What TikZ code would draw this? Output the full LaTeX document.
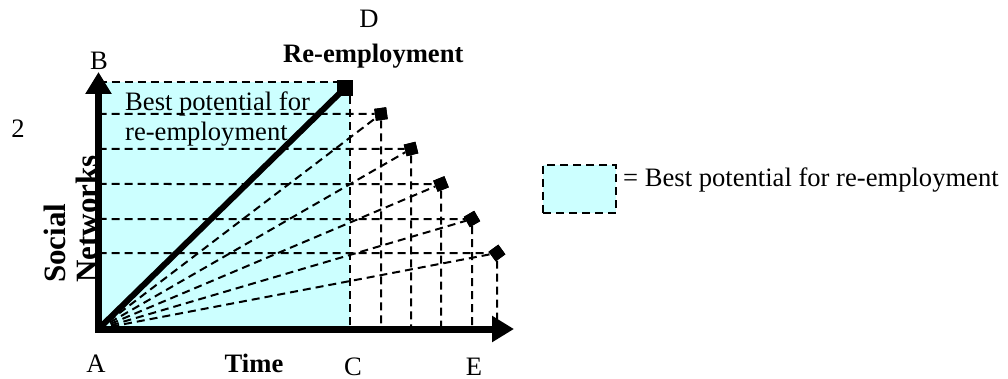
\documentclass[tikz,border=0pt]{standalone}
\usepackage{fontspec}
\setmainfont{Liberation Serif}
\usetikzlibrary{arrows.meta}
\definecolor{potential}{RGB}{204,255,255}
\tikzset{
  guide/.style={line width=2pt, dash pattern=on 8pt off 5pt},
  axisline/.style={line width=7pt, line join=miter, {Triangle[length=22pt,width=25pt]}-{Triangle[length=22pt,width=25pt]}},
  mainline/.style={line width=6pt},
  endsq/.style={draw=none, fill=black, minimum size=16pt, inner sep=0pt},
  endmark/.style={draw=none, fill=black, minimum size=12pt, inner sep=0pt},
  lbl/.style={inner sep=0pt, font=\fontsize{26.6}{30}\selectfont},
  blbl/.style={inner sep=0pt, font=\fontsize{26.6}{30}\selectfont\bfseries},
  legendbox/.style={draw, fill=potential, line width=2pt, dash pattern=on 8pt off 5pt, minimum width=73pt, minimum height=48pt, inner sep=0pt}
}
\begin{document}
\begin{tikzpicture}[x=1pt,y=-1pt]
\useasboundingbox (0,0) rectangle (1008,379);
\coordinate (A) at (98.5,329);
\coordinate (Btip) at (98.5,72);
\coordinate (Etip) at (514,329);
\coordinate (C) at (350,329);
\coordinate (topL) at (98.5,82);
% shaded region
\fill[potential] (98.5,82) rectangle (350,329);
% end markers
\node[endsq] (sqD) at (345,88) {};
\node[endmark, rotate=8]  (d1) at (381,114) {};
\node[endmark, rotate=14] (d2) at (411,149) {};
\node[endmark, rotate=22] (d3) at (441,184) {};
\node[endmark, rotate=30] (d4) at (472,219) {};
\node[endmark, rotate=36] (d5) at (497,253) {};
% guide lines
\draw[guide] (topL) -- (topL -| sqD.west);
\draw[guide] (sqD.south -| C) -- (C);
\foreach \d in {d1,d2,d3,d4,d5}{
  \draw[guide] (A |- \d) -- (\d);
  \draw[guide] (\d) -- (\d |- A);
  \draw[guide] (A) -- (\d);
}
% main diagonal and axes
\draw[mainline] (A) -- (sqD.center);
\draw[axisline] (Btip) -- (A) -- (Etip);
% redraw markers on top
\node[endsq] at (sqD) {};
\foreach \d/\r in {d1/8,d2/14,d3/22,d4/30,d5/36}{
  \node[endmark, rotate=\r] at (\d) {};
}
% labels
\node[lbl, anchor=base] (labD) at (369,28) {D};
\node[lbl, anchor=base] (labB) at (99,70) {B};
\node[blbl, anchor=base west] (reemp) at (283,63) {Re-employment};
\node[lbl, anchor=base] (two) at (18,138) {2};
\node[lbl, anchor=north west, align=left] (best) at (125,92) {Best potential for\\re-employment};
\node[inner sep=0pt, font=\fontsize{31}{32}\selectfont\bfseries, anchor=north west, align=left, rotate=90] (social) at (44,283) {Social\\Networks};
\node[lbl, anchor=base] (labA) at (96,372) {A};
\node[blbl, anchor=base] (time) at (254,372) {Time};
\node[lbl, anchor=base] (labC) at (353,375) {C};
\node[lbl, anchor=base] (labE) at (474,375) {E};
% legend
\node[legendbox] (legbox) at (579.5,189) {};
\node[lbl, anchor=base west] (legtext) at (623,187) {= Best potential for re-employment};
\end{tikzpicture}
\end{document}
